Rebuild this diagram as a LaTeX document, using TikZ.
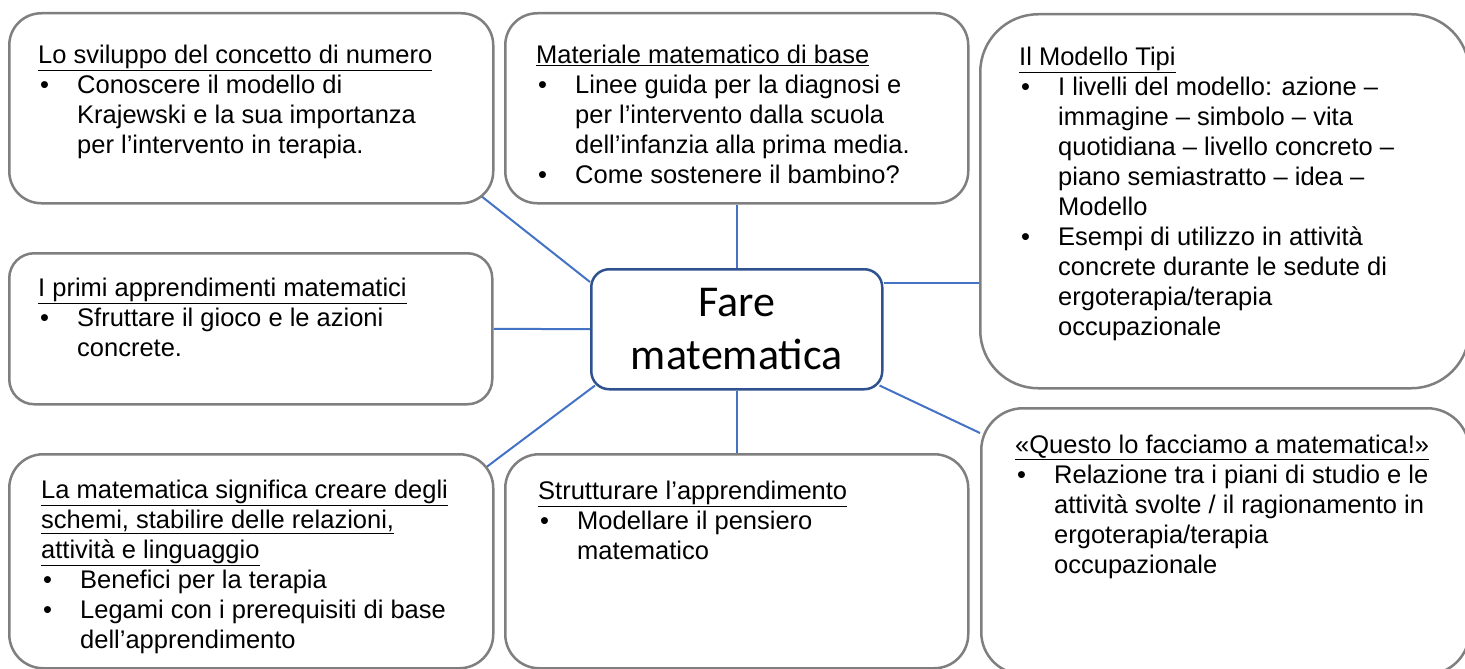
\documentclass[tikz,border=0pt]{standalone}
\usepackage{fontspec}
\setmainfont{Liberation Sans}
\newfontfamily\hubfont{Carlito}
\usetikzlibrary{positioning,calc,backgrounds}

\definecolor{boxgray}{HTML}{7F7F7F}
\definecolor{linkblue}{HTML}{4472C4}
\definecolor{hubblue}{HTML}{2F528F}

\newcommand{\bul}{\makebox[39pt][l]{\hspace{2pt}•}}
\newcommand{\ind}{\hspace*{39pt}}

\begin{document}
\begin{tikzpicture}[x=1pt, y=-1pt,
        panel/.style={draw=boxgray, line width=2.5pt, fill=white, rounded corners=#1, inner sep=0pt, anchor=north west},
        txt/.style={anchor=north west, align=left, inner sep=0pt, font=\fontsize{25.5}{30}\selectfont},
        link/.style={draw=linkblue, line width=2pt}]
        \useasboundingbox (0,0) rectangle (1465,669);

        % boxes
        \node[panel=32pt, minimum width=484pt, minimum height=190pt] (numero) at (8,12) {};
        \node[panel=32pt, minimum width=463pt, minimum height=190pt] (materiale) at (504,12) {};
        \node[panel=58pt, minimum width=489pt, minimum height=374pt] (tipi) at (979,13) {};
        \node[panel=25pt, minimum width=483pt, minimum height=151pt] (primi) at (8,252) {};
        \node[panel=34pt, minimum width=484pt, minimum height=214pt] (schemi) at (8,453) {};
        \node[panel=34pt, minimum width=463pt, minimum height=214pt] (strutturare) at (504,453) {};
        \node[panel=42pt, minimum width=488pt, minimum height=266pt] (questo) at (980,407) {};
        \node[panel=18pt, draw=hubblue, minimum width=291pt, minimum height=120pt, align=center,
              font=\hubfont\fontsize{44}{53}\selectfont] (hub) at (590,268) {Fare\\matematica};

        % texts (top of first line = baseline - 18.6)
        \node[txt] (numero-t) at (38,44.4) {\underline{Lo sviluppo del concetto di numero}\\
            \bul Conoscere il modello di\\ \ind Krajewski e la sua importanza\\ \ind per l'intervento in terapia.};
        \node[txt] (materiale-t) at (536,44.4) {\underline{Materiale matematico di base}\\
            \bul Linee guida per la diagnosi e\\ \ind per l'intervento dalla scuola\\
            \ind dell'infanzia alla prima media.\\ \bul Come sostenere il bambino?};
        \node[txt] (tipi-t) at (1019,46.4) {\underline{Il Modello Tipi}\\
            \bul I livelli del modello: azione –\\ \ind immagine – simbolo – vita\\
            \ind quotidiana – livello concreto –\\ \ind piano semiastratto – idea –\\ \ind Modello\\
            \bul Esempi di utilizzo in attività\\ \ind concrete durante le sedute di\\
            \ind ergoterapia/terapia\\ \ind occupazionale};
        \node[txt] (primi-t) at (38,277.4) {\underline{I primi apprendimenti matematici}\\
            \bul Sfruttare il gioco e le azioni\\ \ind concrete.};
        \node[txt] (schemi-t) at (41,479.4) {\underline{La matematica significa creare degli}\\
            \underline{schemi, stabilire delle relazioni,}\\ \underline{attività e linguaggio}\\
            \bul Benefici per la terapia\\ \bul Legami con i prerequisiti di base\\ \ind dell'apprendimento};
        \node[txt] (strutturare-t) at (538,480.4) {\underline{Strutturare l'apprendimento}\\
            \bul Modellare il pensiero\\ \ind matematico};
        \node[txt] (questo-t) at (1015,434.4) {\underline{«Questo lo facciamo a matematica!»}\\
            \bul Relazione tra i piani di studio e le\\ \ind attività svolte / il ragionamento in\\
            \ind ergoterapia/terapia\\ \ind occupazionale};

        % connectors
        \begin{scope}[on background layer]
            \draw[link] ($(numero.south east)+(-14,-9)$) -- ($(hub.north west)+(0,14)$);
            \draw[link] (materiale.south) -- (hub.north);
            \draw[link] ($(hub.north east)+(0,15)$) coordinate (h3) -- (h3 -| tipi.west);
            \draw[link] (primi.east) -- (hub.west);
            \draw[link] ($(hub.south west)+(5,-5)$) -- ($(schemi.north east)+(-8,14)$);
            \draw[link] (hub.south) -- (strutturare.north);
            \draw[link] ($(hub.south east)+(-4,-5)$) -- ($(questo.north west)+(0,26)$);
        \end{scope}
    \end{tikzpicture}
\end{document}
